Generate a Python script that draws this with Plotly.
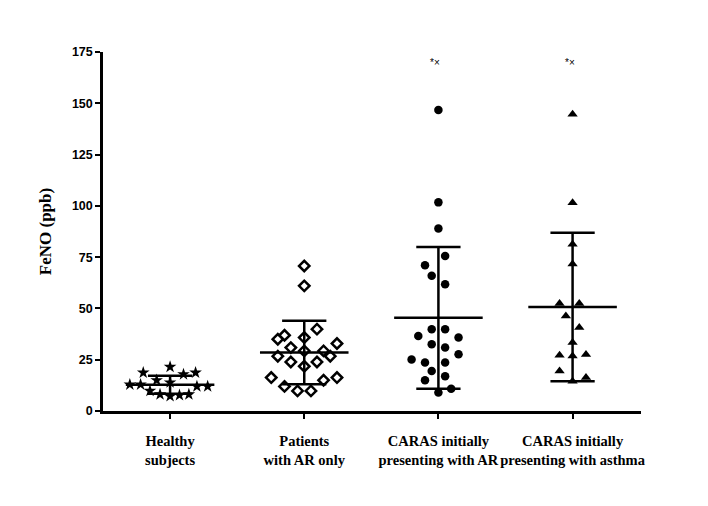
import plotly.graph_objects as go

categories = ["Healthy<br>subjects", "Patients<br>with AR only",
              "CARAS initially<br>presenting with AR", "CARAS initially<br>presenting with asthma"]

healthy_vals = [18.7, 21.5, 17.9, 18.7, 15.0, 13.9, 12.9, 12.9, 12.0, 12.0, 9.8, 8.1, 7.2, 7.7, 8.1]
healthy_jit = [-0.20, 0, 0.10, 0.19, -0.10, 0, -0.30, -0.22, 0.20, 0.28, -0.15, -0.075, 0, 0.07, 0.14]

ar_vals = [70.7, 61.0, 39.9, 36.9, 35.0, 35.8, 32.9, 30.9, 29.3, 29.3, 26.7, 26.7, 23.9, 23.9,
           21.8, 16.3, 16.3, 15.0, 12.0, 9.8, 9.8]
ar_jit = [0, 0, 0.095, -0.147, -0.197, 0, 0.244, -0.10, 0, 0.144, -0.197, 0.194, -0.10, 0.095,
          0, -0.246, 0.244, 0.144, -0.147, -0.05, 0.05]

caras_ar_vals = [146.7, 101.7, 89.0, 75.6, 71.1, 65.9, 61.8, 39.9, 39.9, 36.6, 35.8, 32.5, 30.9,
                 27.7, 25.1, 23.6, 23.6, 19.5, 16.9, 15.0, 10.9, 9.0]
caras_ar_jit = [0, 0, 0, 0.05, -0.10, -0.05, 0.05, -0.05, 0.05, -0.15, 0.15, -0.05, 0.05,
                0.15, -0.20, -0.10, 0.05, -0.05, 0.05, -0.10, 0.095, 0]

caras_as_vals = [144.6, 101.5, 81.3, 71.6, 52.4, 52.4, 46.3, 40.7, 33.4, 27.2, 26.8, 27.5, 19.5, 16.3, 14.5]
caras_as_jit = [0, 0, 0, 0, -0.097, 0.05, -0.05, 0.05, 0, -0.097, 0, 0.10, -0.097, 0.10, 0]

means = [12.8, 28.5, 45.4, 50.7]
sds = [4.4, 15.5, 34.6, 36.2]

groups = [
    (healthy_vals, healthy_jit, "star", 9.5, 0),
    (ar_vals, ar_jit, "diamond-open", 8, 2.5),
    (caras_ar_vals, caras_ar_jit, "circle", 8.5, 0),
    (caras_as_vals, caras_as_jit, "triangle-up", 9, 0),
]

sig_text = ["", "", "*×", "*×"]

fig = go.Figure()

# mean ± SD lines
LW = 2.5
for i, (m, s) in enumerate(zip(means, sds)):
    xs = [i - 0.33, i + 0.33, None, i, i, None, i - 0.165, i + 0.165, None, i - 0.165, i + 0.165]
    ys = [m, m, None, m - s, m + s, None, m + s, m + s, None, m - s, m - s]
    fig.add_trace(go.Scatter(x=xs, y=ys, mode="lines", line=dict(color="black", width=LW),
                             showlegend=False, hoverinfo="skip", cliponaxis=False))

for i, (vals, jit, sym, sz, lw) in enumerate(groups):
    fig.add_trace(go.Scatter(
        x=[i + j for j in jit], y=vals, mode="markers",
        marker=dict(symbol=sym, size=sz, color="black",
                    line=dict(color="black", width=lw)),
        showlegend=False, cliponaxis=False))

for i, t in enumerate(sig_text):
    if t:
        fig.add_annotation(x=i, y=170, text=t, showarrow=False, xshift=-3,
                           font=dict(family="Liberation Sans", size=10, color="black"))

fig.update_layout(
    width=708, height=506,
    margin=dict(l=95, r=75, t=44, b=103, autoexpand=False),
    paper_bgcolor="white", plot_bgcolor="white",
    font=dict(family="Liberation Serif", color="black"),
)
fig.update_xaxes(
    range=[-0.5, 3.51], tickvals=[0, 1, 2, 3], tickangle=0, automargin=False,
    ticktext=["<b>" + c.replace("<br>", "</b><br><b>") + "</b>" for c in categories],
    showline=True, linecolor="black", linewidth=2.5, ticks="outside", ticklen=5, tickwidth=2,
    tickcolor="black", showgrid=False, zeroline=False, ticklabelstandoff=10,
    tickfont=dict(family="Liberation Serif", size=14.5, color="black"),
)
fig.update_yaxes(
    range=[0, 175], tickvals=[0, 25, 50, 75, 100, 125, 150, 175], automargin=False,
    showline=True, linecolor="black", linewidth=2.5, ticks="outside", ticklen=5, tickwidth=2,
    tickcolor="black", showgrid=False, zeroline=False,
    tickfont=dict(family="Liberation Sans", size=12.5, color="black", weight="bold"),
    title=dict(text="<b>FeNO (ppb)</b>", standoff=16,
               font=dict(family="Liberation Serif", size=17, color="black")),
)

fig.write_html("out.html")
